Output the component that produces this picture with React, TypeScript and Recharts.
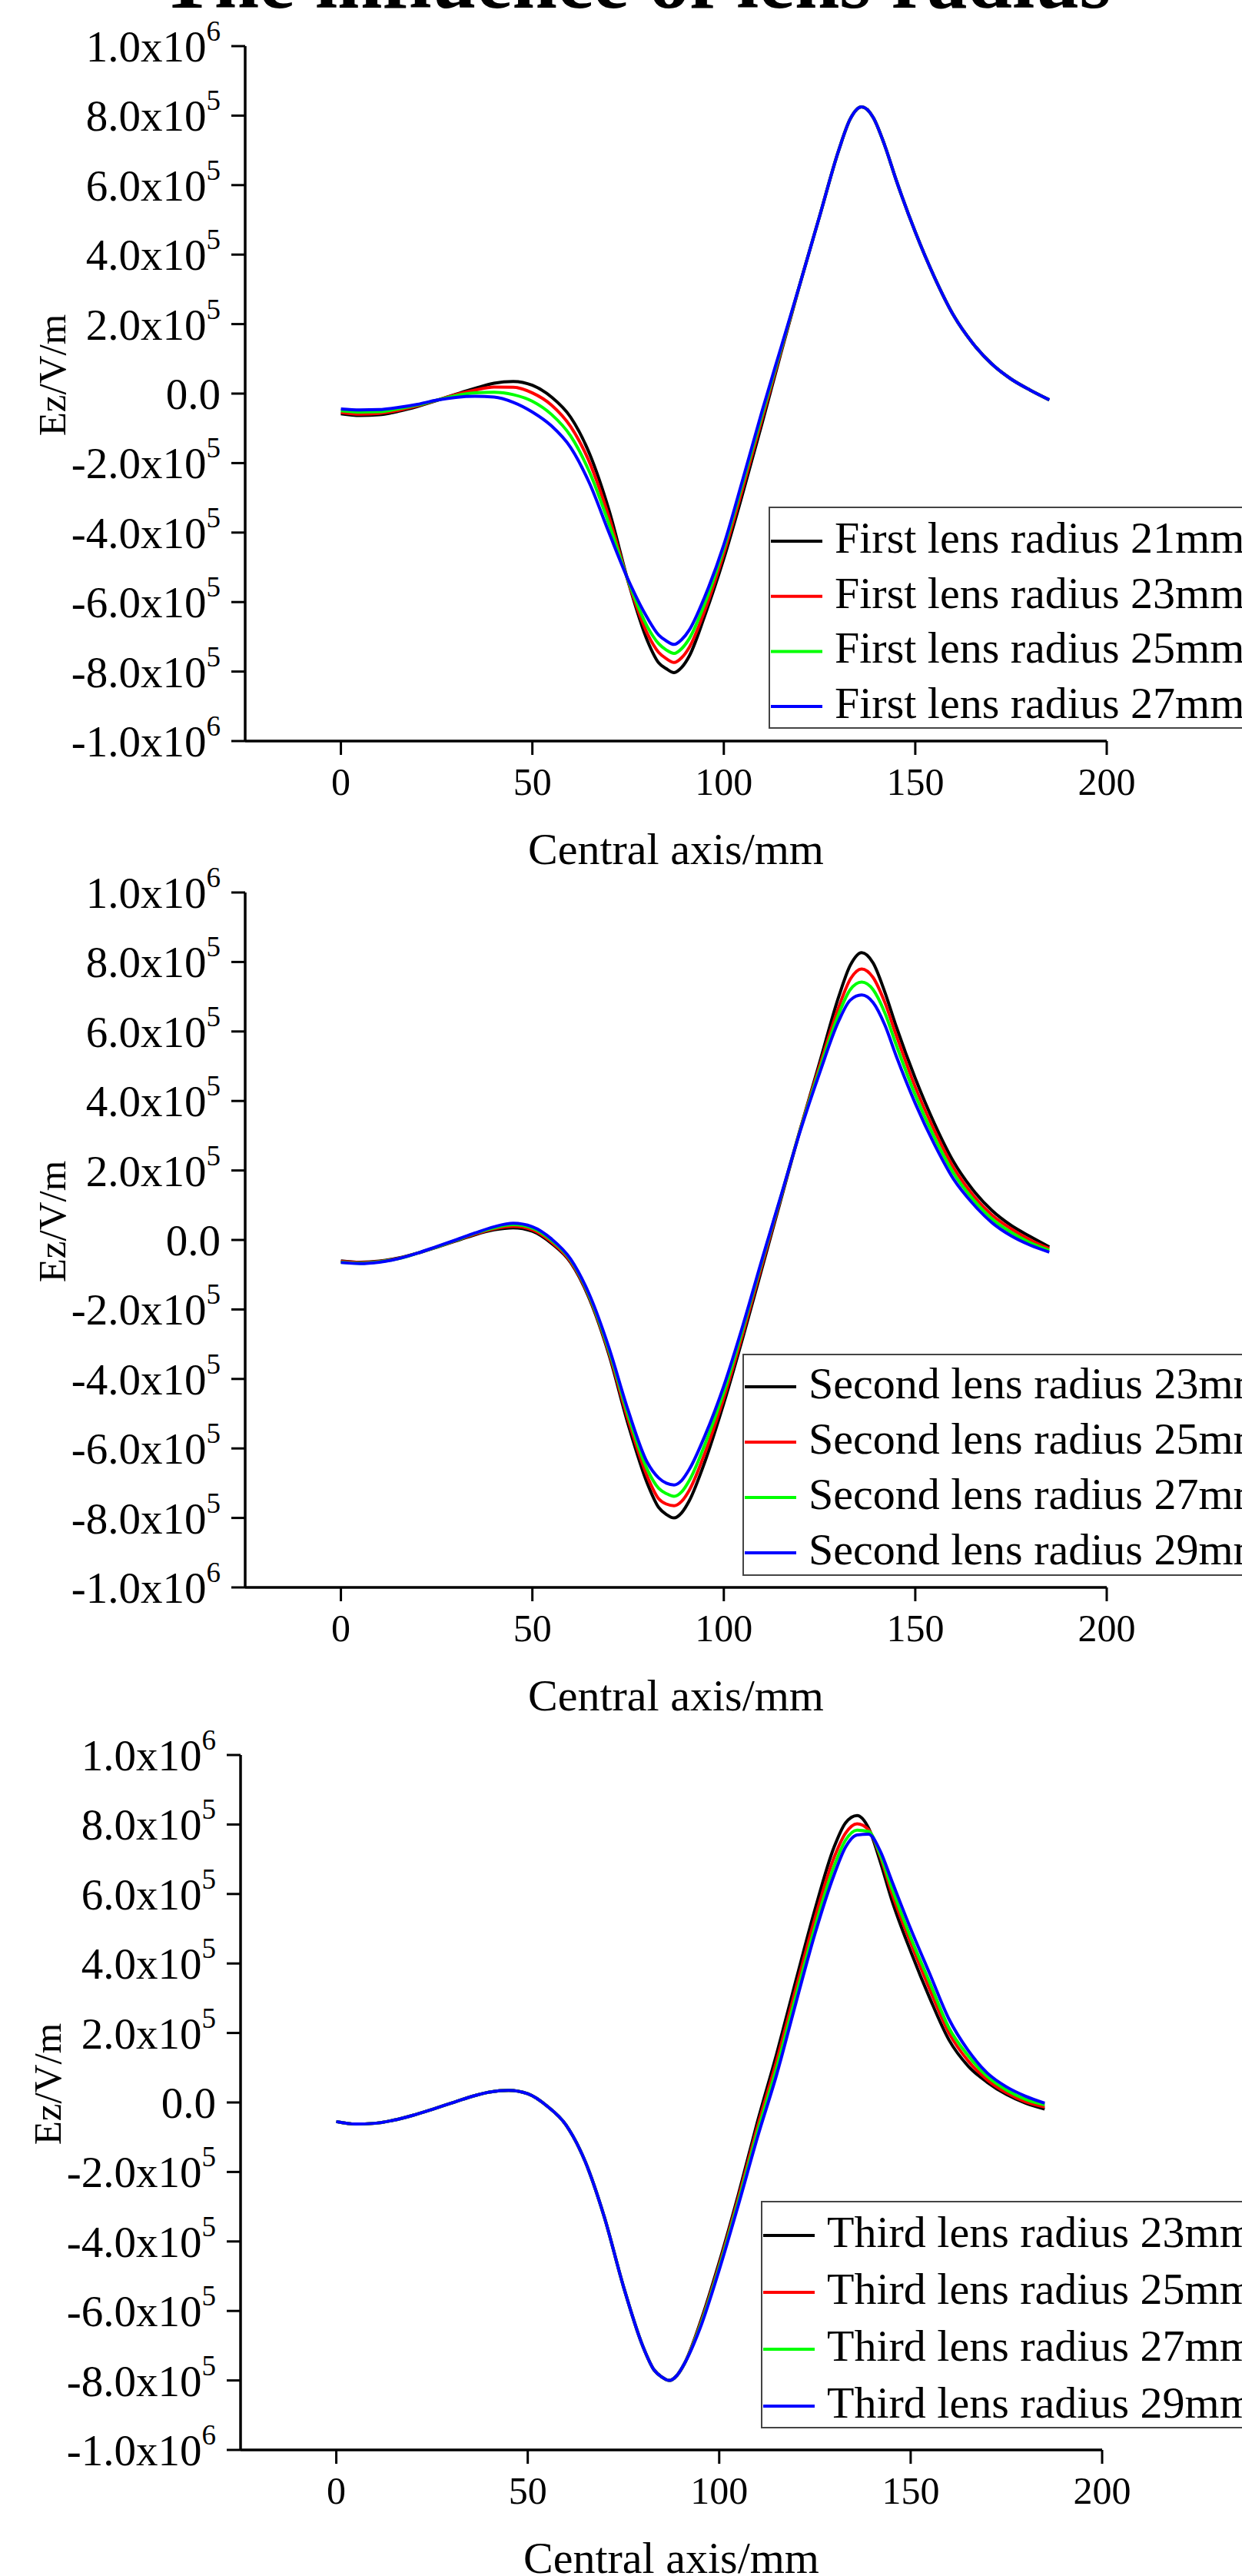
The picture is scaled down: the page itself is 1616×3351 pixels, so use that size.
import React from 'react';
import { LineChart, Line, XAxis, YAxis, Legend } from 'recharts';

const FONT = '"Liberation Serif", "Times New Roman", serif';

// sample positions along the central axis (mm)
const xs = [0, 5, 10, 15, 20, 25, 30, 35, 40, 45, 50, 55, 60, 65, 70, 75, 80, 83, 85, 87, 89, 91, 95, 100, 105, 110, 115, 120, 125, 130, 133, 136, 139, 142, 145, 150, 155, 160, 165, 170, 175, 180, 185];

const xTicks = [0, 50, 100, 150, 200];
const xMinorTicks = [-25, 25, 75, 125, 175];
const yTicks = [-1e6, -8e5, -6e5, -4e5, -2e5, 0, 2e5, 4e5, 6e5, 8e5, 1e6];
const yMinorTicks = [-9e5, -7e5, -5e5, -3e5, -1e5, 1e5, 3e5, 5e5, 7e5, 9e5];
const colors = ['#000000', '#ff0000', '#00ff00', '#0000ff'];

// first lens
const firstNames = ['First lens radius 21mm', 'First lens radius 23mm', 'First lens radius 25mm', 'First lens radius 27mm'];
const first21 = [-5.8e4, -6.3e4, -6.1e4, -5.1e4, -3.7e4, -2.0e4, -2e3, 1.5e4, 3.0e4, 3.5e4, 2.4e4, -1.0e4, -6.8e4, -1.75e5, -3.35e5, -5.4e5, -7.1e5, -7.75e5, -7.92e5, -8.03e5, -7.88e5, -7.55e5, -6.4e5, -4.75e5, -2.85e5, -8.5e4, 1.2e5, 3.2e5, 5.1e5, 7.0e5, 7.9e5, 8.25e5, 7.95e5, 7.15e5, 6.15e5, 4.65e5, 3.35e5, 2.25e5, 1.45e5, 8.5e4, 4.2e4, 1.0e4, -1.8e4];
const first23 = [-5.4e4, -5.9e4, -5.7e4, -4.8e4, -3.5e4, -1.9e4, -3e3, 1.0e4, 1.9e4, 1.8e4, 2e3, -3.3e4, -9.5e4, -2.0e5, -3.55e5, -5.4e5, -6.9e5, -7.45e5, -7.63e5, -7.74e5, -7.6e5, -7.3e5, -6.25e5, -4.6e5, -2.7e5, -7.2e4, 1.25e5, 3.2e5, 5.1e5, 7.0e5, 7.9e5, 8.25e5, 7.95e5, 7.15e5, 6.15e5, 4.65e5, 3.35e5, 2.25e5, 1.45e5, 8.5e4, 4.2e4, 1.0e4, -1.8e4];
const first25 = [-4.9e4, -5.3e4, -5.2e4, -4.4e4, -3.3e4, -1.9e4, -6e3, 2e3, 4e3, -3e3, -2.2e4, -6.0e4, -1.22e5, -2.28e5, -3.75e5, -5.38e5, -6.7e5, -7.2e5, -7.38e5, -7.48e5, -7.34e5, -7.05e5, -6.05e5, -4.45e5, -2.55e5, -6e4, 1.3e5, 3.2e5, 5.1e5, 7.0e5, 7.9e5, 8.25e5, 7.95e5, 7.15e5, 6.15e5, 4.65e5, 3.35e5, 2.25e5, 1.45e5, 8.5e4, 4.2e4, 1.0e4, -1.8e4];
const first27 = [-4.4e4, -4.7e4, -4.6e4, -4.0e4, -3.1e4, -1.9e4, -1.1e4, -8e3, -1.0e4, -2.5e4, -5.3e4, -9.3e4, -1.55e5, -2.6e5, -4.0e5, -5.35e5, -6.45e5, -6.95e5, -7.12e5, -7.22e5, -7.08e5, -6.8e5, -5.85e5, -4.35e5, -2.45e5, -5e4, 1.35e5, 3.2e5, 5.1e5, 7.0e5, 7.9e5, 8.25e5, 7.95e5, 7.15e5, 6.15e5, 4.65e5, 3.35e5, 2.25e5, 1.45e5, 8.5e4, 4.2e4, 1.0e4, -1.8e4];

// second lens
const secondNames = ['Second lens radius 23mm', 'Second lens radius 25mm', 'Second lens radius 27mm', 'Second lens radius 29mm'];
const second23 = [-6.0e4, -6.4e4, -6.1e4, -5.2e4, -3.8e4, -2.1e4, -3e3, 1.5e4, 2.9e4, 3.5e4, 2.5e4, -1.0e4, -6.5e4, -1.72e5, -3.3e5, -5.3e5, -7.0e5, -7.7e5, -7.9e5, -8.0e5, -7.85e5, -7.5e5, -6.4e5, -4.7e5, -2.8e5, -8e4, 1.2e5, 3.2e5, 5.1e5, 7.0e5, 7.9e5, 8.27e5, 7.97e5, 7.15e5, 6.15e5, 4.65e5, 3.35e5, 2.25e5, 1.45e5, 8.5e4, 4.2e4, 1e4, -2e4];
const second25 = [-6.2e4, -6.5e4, -6.2e4, -5.3e4, -3.8e4, -2.0e4, -2e3, 1.7e4, 3.2e4, 3.9e4, 2.9e4, -6e3, -6.2e4, -1.68e5, -3.24e5, -5.17e5, -6.8e5, -7.45e5, -7.6e5, -7.65e5, -7.52e5, -7.2e5, -6.15e5, -4.55e5, -2.68e5, -7e4, 1.25e5, 3.2e5, 5.0e5, 6.7e5, 7.5e5, 7.8e5, 7.55e5, 6.85e5, 5.9e5, 4.4e5, 3.15e5, 2.08e5, 1.3e5, 7.2e4, 3.2e4, 0, -2.5e4];
const second27 = [-6.4e4, -6.7e4, -6.3e4, -5.4e4, -3.8e4, -2.0e4, -1e3, 1.9e4, 3.5e4, 4.4e4, 3.4e4, -1e3, -5.8e4, -1.64e5, -3.17e5, -5.03e5, -6.6e5, -7.15e5, -7.3e5, -7.38e5, -7.25e5, -6.92e5, -5.9e5, -4.38e5, -2.55e5, -6e4, 1.28e5, 3.18e5, 4.9e5, 6.5e5, 7.2e5, 7.42e5, 7.2e5, 6.55e5, 5.62e5, 4.17e5, 2.95e5, 1.92e5, 1.18e5, 6.1e4, 2.2e4, -8e3, -3e4];
const second29 = [-6.5e4, -6.8e4, -6.4e4, -5.4e4, -3.8e4, -1.9e4, 0, 2.0e4, 3.8e4, 4.8e4, 3.8e4, 3e3, -5.5e4, -1.6e5, -3.1e5, -4.9e5, -6.4e5, -6.85e5, -7.0e5, -7.05e5, -6.92e5, -6.6e5, -5.65e5, -4.2e5, -2.45e5, -5.5e4, 1.3e5, 3.15e5, 4.8e5, 6.3e5, 6.9e5, 7.05e5, 6.83e5, 6.2e5, 5.3e5, 3.93e5, 2.75e5, 1.75e5, 1.05e5, 5e4, 1.2e4, -1.5e4, -3.5e4];

// third lens
const thirdNames = ['Third lens radius 23mm', 'Third lens radius 25mm', 'Third lens radius 27mm', 'Third lens radius 29mm'];
const third23 = [-5.5e4, -6.2e4, -6.0e4, -5.1e4, -3.7e4, -2.0e4, -2e3, 1.6e4, 3.0e4, 3.5e4, 2.5e4, -1.0e4, -6.5e4, -1.7e5, -3.3e5, -5.3e5, -7.0e5, -7.7e5, -7.9e5, -8.0e5, -7.85e5, -7.5e5, -6.35e5, -4.6e5, -2.65e5, -5.5e4, 1.4e5, 3.5e5, 5.55e5, 7.35e5, 8.05e5, 8.26e5, 7.9e5, 6.95e5, 5.85e5, 4.35e5, 3.0e5, 1.8e5, 1.05e5, 5.8e4, 2.3e4, -2e3, -1.9e4];
const third25 = [-5.5e4, -6.2e4, -6.0e4, -5.1e4, -3.7e4, -2.0e4, -2e3, 1.6e4, 3.0e4, 3.5e4, 2.5e4, -1.0e4, -6.5e4, -1.7e5, -3.3e5, -5.3e5, -7.0e5, -7.7e5, -7.9e5, -8.0e5, -7.85e5, -7.5e5, -6.4e5, -4.68e5, -2.75e5, -7e4, 1.2e5, 3.27e5, 5.3e5, 7.05e5, 7.75e5, 8.02e5, 7.85e5, 7.1e5, 6.05e5, 4.6e5, 3.25e5, 2.0e5, 1.2e5, 6.5e4, 2.8e4, 2e3, -1.3e4];
const third27 = [-5.5e4, -6.2e4, -6.0e4, -5.1e4, -3.7e4, -2.0e4, -2e3, 1.6e4, 3.0e4, 3.5e4, 2.5e4, -1.0e4, -6.5e4, -1.7e5, -3.3e5, -5.3e5, -7.0e5, -7.7e5, -7.9e5, -8.0e5, -7.85e5, -7.5e5, -6.45e5, -4.75e5, -2.85e5, -8.5e4, 1.0e5, 3.05e5, 5.05e5, 6.8e5, 7.55e5, 7.84e5, 7.8e5, 7.15e5, 6.2e5, 4.75e5, 3.45e5, 2.15e5, 1.35e5, 7.5e4, 3.6e4, 9e3, -7e3];
const third29 = [-5.5e4, -6.2e4, -6.0e4, -5.1e4, -3.7e4, -2.0e4, -2e3, 1.6e4, 3.0e4, 3.5e4, 2.5e4, -1.0e4, -6.5e4, -1.7e5, -3.3e5, -5.3e5, -7.0e5, -7.7e5, -7.9e5, -8.0e5, -7.85e5, -7.5e5, -6.5e5, -4.82e5, -2.95e5, -1.0e5, 8e4, 2.85e5, 4.85e5, 6.55e5, 7.35e5, 7.7e5, 7.72e5, 7.25e5, 6.4e5, 5.0e5, 3.7e5, 2.4e5, 1.5e5, 8.5e4, 4.5e4, 1.8e4, -2e3];

const panels = [
  { names: firstNames, series: [first21, first23, first25, first27], plotTop: 60, plotLeft: 319, legendLeft: 1000, legendTop: 659, legendHeight: 289, firstBaseline: 58, rowStep: 71.7 },
  { names: secondNames, series: [second23, second25, second27, second29], plotTop: 1161, plotLeft: 319, legendLeft: 966, legendTop: 1761, legendHeight: 289, firstBaseline: 56, rowStep: 72 },
  { names: thirdNames, series: [third23, third25, third27, third29], plotTop: 2283, plotLeft: 313, legendLeft: 990, legendTop: 2863, legendHeight: 296, firstBaseline: 58, rowStep: 74 },
];

const PLOT_W = 1121;
const PLOT_H = 904;
const MARGIN_TOP = 60;
const X_AXIS_H = 176;
const CHART_H = MARGIN_TOP + PLOT_H + X_AXIS_H;

function YTick(props: any) {
  const { x, y, payload } = props;
  const v = payload.value;
  if (v === 0) {
    return (
      <text x={x} y={y} dy={20} textAnchor="end" fontFamily={FONT} fontSize={57} fill="#000">0.0</text>
    );
  }
  const exp = Math.floor(Math.log10(Math.abs(v)) + 1e-9);
  const mant = (v / Math.pow(10, exp)).toFixed(1);
  return (
    <text x={x} y={y} dy={20} textAnchor="end" fontFamily={FONT} fontSize={57} fill="#000">
      <tspan>{mant}x10</tspan>
      <tspan dy={-27} fontSize={37}>{exp}</tspan>
    </text>
  );
}

function XTick(props: any) {
  const { x, y, payload } = props;
  return (
    <text x={x} y={y} dy={52} textAnchor="middle" fontFamily={FONT} fontSize={50} fill="#000">
      {payload.value}
    </text>
  );
}

function XTitle(props: any) {
  const vb = props.viewBox || {};
  return (
    <text x={vb.x + vb.width / 2} y={vb.y + 160} textAnchor="middle" fontFamily={FONT} fontSize={58} fill="#000">
      Central axis/mm
    </text>
  );
}

function YTitle(props: any) {
  const vb = props.viewBox || {};
  const cx = vb.x + vb.width - 234;
  const cy = vb.y + vb.height / 2 - 24;
  return (
    <text x={cx} y={cy} transform={`rotate(-90, ${cx}, ${cy})`} textAnchor="middle" fontFamily={FONT} fontSize={51} fill="#000">
      Ez/V/m
    </text>
  );
}

function LensLegend({ names, height, firstBaseline, rowStep }: any) {
  return (
    <div style={{ width: 700, height, border: '2px solid #444', background: '#fff', boxSizing: 'border-box' }}>
      <svg width={700} height={height - 4} style={{ display: 'block' }}>
        {names.map((n: string, i: number) => {
          const base = firstBaseline + i * rowStep;
          return (
            <g key={n}>
              <line x1={1} x2={68} y1={base - 15} y2={base - 15} stroke={colors[i]} strokeWidth={4} />
              <text x={84} y={base} fontFamily={FONT} fontSize={58} fill="#000">{n}</text>
            </g>
          );
        })}
      </svg>
    </div>
  );
}

function Panel({ p }: any) {
  const rows = xs.map((x, i) => {
    const r: any = { x };
    p.series.forEach((s: number[], k: number) => { r['s' + k] = s[i]; });
    return r;
  });
  const chartTop = p.plotTop - MARGIN_TOP;
  const rightMargin = 1616 - (p.plotLeft + PLOT_W);
  const axisStroke = { stroke: '#000', strokeWidth: 3.5 };
  const tickStroke = { stroke: '#000', strokeWidth: 3 };
  return (
    <div style={{ position: 'absolute', left: 0, top: chartTop }}>
      <LineChart width={1616} height={CHART_H} data={rows} margin={{ top: MARGIN_TOP, right: rightMargin, left: 0, bottom: 0 }}>
        <XAxis xAxisId="minor" type="number" dataKey="x" domain={[-25, 200]} ticks={xMinorTicks} interval={0} height={0} axisLine={false} tick={false} tickSize={9} tickLine={tickStroke} allowDataOverflow />
        <XAxis type="number" dataKey="x" domain={[-25, 200]} ticks={xTicks} interval={0} height={X_AXIS_H} tickSize={18} tickMargin={0} tickLine={tickStroke} axisLine={axisStroke} tick={<XTick />} label={<XTitle />} allowDataOverflow />
        <XAxis xAxisId="top" orientation="top" type="number" domain={[-25, 200]} height={0} tick={false} tickLine={false} axisLine={{ stroke: '#222', strokeWidth: 3 }} allowDataOverflow />
        <YAxis yAxisId="minor" type="number" domain={[-1e6, 1e6]} ticks={yMinorTicks} interval={0} width={0} axisLine={false} tick={false} tickSize={9} tickLine={tickStroke} allowDataOverflow />
        <YAxis type="number" domain={[-1e6, 1e6]} ticks={yTicks} interval={0} width={p.plotLeft} tickSize={18} tickMargin={14} tickLine={tickStroke} axisLine={axisStroke} tick={<YTick />} label={<YTitle />} allowDataOverflow />
        <YAxis yAxisId="right" orientation="right" type="number" domain={[-1e6, 1e6]} width={0} tick={false} tickLine={false} axisLine={{ stroke: '#222', strokeWidth: 3 }} allowDataOverflow />
        <Legend
          layout="vertical"
          align="center"
          verticalAlign="middle"
          wrapperStyle={{ position: 'absolute', left: p.legendLeft, top: p.legendTop - chartTop, width: 700, height: p.legendHeight }}
          content={() => <LensLegend names={p.names} height={p.legendHeight} firstBaseline={p.firstBaseline} rowStep={p.rowStep} />}
        />
        {p.series.map((_: number[], k: number) => (
          <Line
            key={k}
            type="monotone"
            dataKey={'s' + k}
            name={p.names[k]}
            stroke={colors[k]}
            strokeWidth={4}
            dot={false}
            activeDot={false}
            isAnimationActive={false}
          />
        ))}
      </LineChart>
    </div>
  );
}

export default function App() {
  return (
    <div style={{ position: 'relative', width: 1616, height: 3351, overflow: 'hidden', background: '#fff' }}>
      <style>{'body{margin:0;}'}</style>
      <svg width={1616} height={40} style={{ position: 'absolute', left: 0, top: 0 }}>
        <text x={827} y={10} textAnchor="middle" fontFamily={FONT} fontWeight="bold" fontSize={105} fill="#000">
          The influence of lens radius
        </text>
      </svg>
      {panels.map((p, i) => (
        <Panel key={i} p={p} />
      ))}
    </div>
  );
}
